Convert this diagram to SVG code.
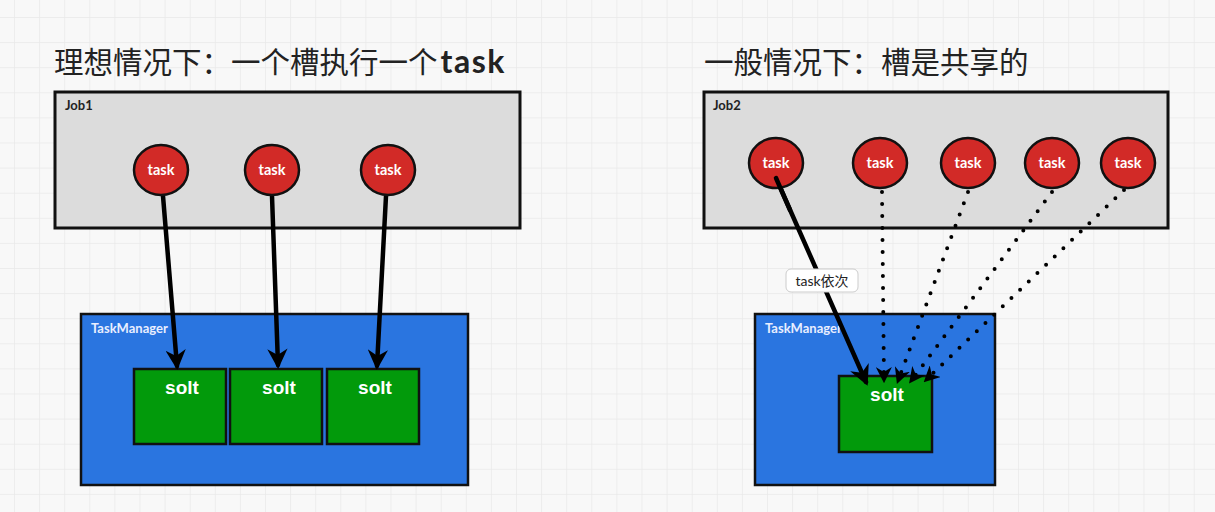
<svg xmlns="http://www.w3.org/2000/svg" width="1215" height="512" viewBox="0 0 1215 512">
<defs>
<pattern id="grid" x="14" y="17" width="25.1" height="25.1" patternUnits="userSpaceOnUse">
<path d="M0 0H25.1M0 0V25.1" fill="none" stroke="#e9e9e9" stroke-width="1.5"/>
</pattern>
<marker id="ah" viewBox="0 0 10 10" refX="8" refY="5" markerWidth="4.5" markerHeight="4.5" orient="auto" markerUnits="strokeWidth">
<path d="M0 0L10 5L0 10L3 5Z" fill="#000"/>
</marker>
<marker id="ahs" viewBox="0 0 10 10" refX="8" refY="5" markerWidth="4" markerHeight="4" orient="auto" markerUnits="strokeWidth">
<path d="M0 0L10 5L0 10L3 5Z" fill="#000"/>
</marker>
</defs>
<style>
.title{font-family:"Noto Sans CJK SC","Liberation Sans",sans-serif;font-size:29.5px;fill:#222}
.job{fill:#dcdcdc;stroke:#111;stroke-width:3}
.tm{fill:#2a75e0;stroke:#111;stroke-width:2.5}
.slot{fill:#029a0b;stroke:#111;stroke-width:2.5}
.task{fill:#d22a27;stroke:#111;stroke-width:2.5}
.tasktxt{font-family:Lato,"Liberation Sans",sans-serif;font-weight:bold;font-size:14.5px;fill:#fff;text-anchor:middle}
.lbl{font-family:Lato,"Liberation Sans",sans-serif;font-weight:bold;font-size:13px}
.slottxt{font-family:"Liberation Sans",sans-serif;font-weight:bold;font-size:19px;fill:#fff;text-anchor:middle}
.arr{stroke:#000;stroke-width:4.5;fill:none;stroke-linecap:round;marker-end:url(#ah)}
.dot{stroke:#000;stroke-width:4;fill:none;stroke-linecap:round;stroke-dasharray:0 12;marker-end:url(#ahs)}
</style>
<rect width="1215" height="512" fill="#f8f8f8"/>
<rect width="1215" height="512" fill="url(#grid)"/>

<text class="title" x="54" y="73" font-size="28.5">理想情况下：一个槽执行一个<tspan dx="3" font-family="Lato,'Liberation Sans',sans-serif" font-size="32" font-weight="bold" letter-spacing="1.5">task</tspan></text>
<text class="title" x="704" y="73">一般情况下：槽是共享的</text>

<g id="job1">
<rect class="job" x="55" y="92" width="465" height="136"/>
<text class="lbl" x="65" y="110" fill="#222">Job1</text>
</g>
<g id="job2">
<rect class="job" x="704" y="92" width="464" height="136"/>
<text class="lbl" x="713" y="110" fill="#222">Job2</text>
</g>

<g id="tm1">
<rect class="tm" x="81" y="314" width="387" height="171"/>
<text class="lbl" x="91" y="333" fill="#e8eeff">TaskManager</text>
</g>
<g id="tm2">
<rect class="tm" x="755" y="314" width="240" height="171"/>
<text class="lbl" x="765" y="333" fill="#e8eeff">TaskManager</text>
</g>

<g id="slot1"><rect class="slot" x="134" y="369" width="92" height="75"/><text class="slottxt" x="182" y="394">solt</text></g>
<g id="slot2"><rect class="slot" x="230" y="369" width="92" height="75"/><text class="slottxt" x="279" y="394">solt</text></g>
<g id="slot3"><rect class="slot" x="327" y="369" width="92" height="75"/><text class="slottxt" x="375" y="394">solt</text></g>
<g id="slot4"><rect class="slot" x="839" y="376" width="93" height="76"/><text class="slottxt" x="887" y="401">solt</text></g>

<g id="connectors">
<path class="arr" d="M163 196L177 366"/>
<path class="arr" d="M272 196L278 365"/>
<path class="arr" d="M386 196L377 366"/>
<path class="arr" d="M776 178L866 382"/>
<path class="dot" d="M882 192L884 380"/>
<path class="dot" d="M968 192L898 381"/>
<path class="dot" d="M1052 192L911 381"/>
<path class="dot" d="M1124 190L926 380"/>
<rect x="786" y="269" width="72" height="23" rx="5" fill="#fff" stroke="#ccc" stroke-width="1"/>
<text x="822" y="286" text-anchor="middle" font-family="Lato,'Noto Sans CJK SC',sans-serif" font-size="14" fill="#222">task依次</text>
</g>

<g id="t1"><ellipse class="task" cx="161" cy="170" rx="27" ry="25"/><text class="tasktxt" x="161" y="175">task</text></g>
<g id="t2"><ellipse class="task" cx="272" cy="170" rx="27" ry="25"/><text class="tasktxt" x="272" y="175">task</text></g>
<g id="t3"><ellipse class="task" cx="388" cy="170" rx="27" ry="25"/><text class="tasktxt" x="388" y="175">task</text></g>
<g id="t4"><ellipse class="task" cx="776" cy="163" rx="27" ry="25"/><text class="tasktxt" x="776" y="168">task</text></g>
<g id="t5"><ellipse class="task" cx="880" cy="163" rx="27" ry="25"/><text class="tasktxt" x="880" y="168">task</text></g>
<g id="t6"><ellipse class="task" cx="968" cy="163" rx="27" ry="25"/><text class="tasktxt" x="968" y="168">task</text></g>
<g id="t7"><ellipse class="task" cx="1052" cy="163" rx="27" ry="25"/><text class="tasktxt" x="1052" y="168">task</text></g>
<g id="t8"><ellipse class="task" cx="1128" cy="163" rx="27" ry="25"/><text class="tasktxt" x="1128" y="168">task</text></g>
<path d="M776 178L790 210" stroke="#000" stroke-width="4.5" stroke-linecap="round"/>
</svg>
